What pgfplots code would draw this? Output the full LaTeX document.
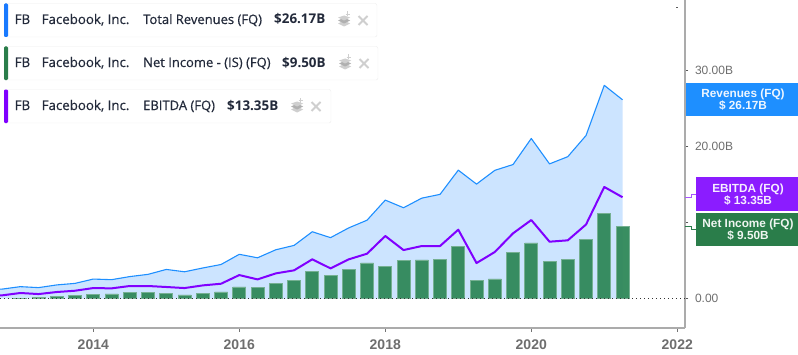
\documentclass[border=0pt]{standalone}
\usepackage{pgfplots}
\usepackage{pgfplotstable}
\usepackage{fontspec}
\pgfplotsset{compat=1.18}
\setmainfont{Liberation Sans}
\newfontfamily\legfont[RawFeature={embolden=0.5}]{Open Sans}
\newfontfamily\legbold{Open Sans}
\definecolor{rev}{HTML}{1E8FFF}
\definecolor{revfill}{HTML}{CCE4FF}
\definecolor{ebit}{HTML}{8000FF}
\definecolor{ebitflag}{HTML}{8B1CFF}
\definecolor{ni}{HTML}{338A5C}
\definecolor{niflag}{HTML}{2A7D4A}
\definecolor{nibar}{HTML}{75B092}
\definecolor{axgray}{HTML}{ABABAB}
\definecolor{txgray}{HTML}{6E6E6E}
\definecolor{txdark}{HTML}{22293A}
\definecolor{icon}{HTML}{CFCFCF}
\pgfplotstableread{
x rev
2012.5 1.184
2012.75 1.262
2013.0 1.585
2013.25 1.458
2013.5 1.813
2013.75 2.016
2014.0 2.585
2014.25 2.502
2014.5 2.910
2014.75 3.203
2015.0 3.851
2015.25 3.543
2015.5 4.042
2015.75 4.501
2016.0 5.841
2016.25 5.382
2016.5 6.436
2016.75 7.011
2017.0 8.809
2017.25 8.032
2017.5 9.321
2017.75 10.328
2018.0 12.972
2018.25 11.966
2018.5 13.231
2018.75 13.727
2019.0 16.914
2019.25 15.077
2019.5 16.886
2019.75 17.652
2020.0 21.082
2020.25 17.737
2020.5 18.687
2020.75 21.470
2021.0 28.072
2021.25 26.171
}\revtable
\pgfplotstableread{
x ni
2013.0 0.064
2013.25 0.219
2013.5 0.333
2013.75 0.425
2014.0 0.523
2014.25 0.642
2014.5 0.791
2014.75 0.806
2015.0 0.701
2015.25 0.512
2015.5 0.719
2015.75 0.896
2016.0 1.562
2016.25 1.510
2016.5 2.055
2016.75 2.379
2017.0 3.568
2017.25 3.064
2017.5 3.894
2017.75 4.707
2018.0 4.268
2018.25 4.988
2018.5 5.106
2018.75 5.137
2019.0 6.882
2019.25 2.429
2019.5 2.616
2019.75 6.091
2020.0 7.349
2020.25 4.902
2020.5 5.178
2020.75 7.846
2021.0 11.219
2021.25 9.497
}\nitable
\pgfplotstableread{
x eb
2012.5 0.40
2012.75 0.44
2013.0 0.75
2013.25 0.61
2013.5 0.88
2013.75 1.05
2014.0 1.40
2014.25 1.36
2014.5 1.67
2014.75 1.67
2015.0 1.54
2015.25 1.40
2015.5 1.75
2015.75 1.97
2016.0 3.11
2016.25 2.54
2016.5 3.33
2016.75 3.73
2017.0 5.18
2017.25 3.99
2017.5 5.18
2017.75 5.92
2018.0 8.25
2018.25 6.40
2018.5 6.93
2018.75 6.93
2019.0 9.08
2019.25 4.69
2019.5 6.14
2019.75 8.60
2020.0 10.35
2020.25 7.50
2020.5 7.68
2020.75 9.76
2021.0 14.70
2021.25 13.35
}\ebtable
\newcommand{\legbox}[7]{% y, right edge, colour, name, value, valuex, iconx
  \fill[white,draw=black!7,rounded corners=2pt] (4pt,{328pt-#1pt}) rectangle (#2pt,{328pt-#1pt-33.5pt});
  \fill[#3,rounded corners=1.2pt] (4pt,{328pt-#1pt}) rectangle (8pt,{328pt-#1pt-33.5pt});
  \node[anchor=base west,inner sep=0,font=\legfont\fontsize{13.3}{14}\selectfont,text=txdark] at (14.5pt,{328pt-#1pt-20.5pt}) {FB};
  \node[anchor=base west,inner sep=0,font=\legfont\fontsize{13.3}{14}\selectfont,text=txdark] at (41.5pt,{328pt-#1pt-20.5pt}) {Facebook, Inc.};
  \node[anchor=base west,inner sep=0,font=\legfont\fontsize{13}{14}\selectfont,text=txdark] at (143pt,{328pt-#1pt-20.5pt}) {#4};
  \node[anchor=base west,inner sep=0,font=\legbold\bfseries\fontsize{13.4}{14}\selectfont,text=txdark] at (#6pt,{328pt-#1pt-20.5pt}) {#5};
  \begin{scope}[shift={(#7pt,{328pt-#1pt-17pt})}]
    \fill[icon] (-6pt,-3pt)--(0pt,-6pt)--(6pt,-3pt)--(0pt,0pt)--cycle;
    \fill[icon!85!black] (-6pt,0pt)--(0pt,-3pt)--(6pt,0pt)--(0pt,3pt)--cycle;
    \fill[icon] (-6pt,3pt)--(0pt,0pt)--(6pt,3pt)--(0pt,5pt)--cycle;
    \draw[icon,line width=.8pt] (3.5pt,4pt)--(3.5pt,9pt) (1.5pt,6.5pt)--(5.5pt,6.5pt);
    \draw[icon,line width=1.9pt] (14.5pt,-4.5pt)--(23.5pt,4.5pt) (14.5pt,4.5pt)--(23.5pt,-4.5pt);
  \end{scope}
}
\newcommand{\flag}[6]{% x0,ytop,ybot,colour,line1,line2
  \fill[#4] (#1pt,{328pt-#2pt}) rectangle (798pt,{328pt-#3pt});
  \node[anchor=center,align=center,inner sep=0,text=white!92!#4,font=\bfseries\fontsize{11.8}{12}\selectfont]
    at ({(#1pt+798pt)/2+1pt},{328pt-(#2pt+#3pt)/2-.5pt}) {#5\\#6};
}
\begin{document}
\begin{tikzpicture}[x=1pt,y=1pt]
\path[use as bounding box] (0,-26pt) rectangle (798pt,328pt);
\begin{axis}[
  at={(0pt,0pt)},anchor=south west,
  scale only axis,width=685pt,height=328pt,
  xmin=2012.722,xmax=2022.106,
  ymin=-3.855,ymax=39.3,
  axis x line=bottom,axis y line=right,
  axis line style={axgray,line width=1.4pt,-},
  xtick={2014,2016,2018,2020,2022},
  xticklabels={2014,2016,2018,2020,2022},
  ytick={0,10,20,30},
  yticklabels={0.00,10.00B,20.00B,30.00B},
  x tick style={black!55,line width=.7pt},
  y tick style={black!65,line width=1.1pt},
  tick align=outside,
  major tick length=3.5pt,
  x tick label style={font=\bfseries\fontsize{14}{14}\selectfont,text=txgray,yshift=-4.5pt},
  y tick label style={font=\fontsize{12}{12}\selectfont,text=txgray,xshift=3pt},
  /pgf/number format/assume math mode=true,
  clip=true,
]
\addplot[draw=none,fill=revfill,forget plot] table[x=x,y=rev] {\revtable} \closedcycle;
\addplot[ybar,bar width=13pt,fill=ni,draw=nibar,line width=.6pt,fill opacity=.97,forget plot] table[x=x,y=ni] {\nitable};
\addplot[black!80,line width=.9pt,dash pattern=on 1pt off 3pt,forget plot] coordinates {(2012.722,0) (2022.106,0)};
\addplot[rev,line width=1.1pt,line join=round,forget plot] table[x=x,y=rev] {\revtable};
\addplot[ebit,line width=2pt,line join=round,forget plot] table[x=x,y=eb] {\ebtable};
\end{axis}
\fill[black!65] (676.2pt,{328pt-8.5pt}) rectangle (677.6pt,{328pt-7.1pt});
\legbox{3.5}{377}{rev!85!blue}{Total Revenues (FQ)}{\$26.17B}{274}{344}
\legbox{46.5}{378}{niflag}{Net Income - (IS) (FQ)}{\$9.50B}{282}{345}
\legbox{89.5}{331}{ebit}{EBITDA (FQ)}{\$13.35B}{227}{297}
\draw[ebitflag!75,line width=.9pt] (685pt,{328pt-197pt})--(691pt,{328pt-197pt})--(691pt,{328pt-194pt})--(696pt,{328pt-194pt});
\draw[niflag,line width=.9pt] (685pt,{328pt-226pt})--(691pt,{328pt-226pt})--(691pt,{328pt-229pt})--(696pt,{328pt-229pt});
\flag{686}{83}{115.7}{rev}{Revenues (FQ)}{\$ 26.17B}
\flag{696}{177}{210.7}{ebitflag}{EBITDA (FQ)}{\$ 13.35B}
\flag{696}{213}{245.7}{niflag}{Net Income (FQ)}{\$ 9.50B}
\end{tikzpicture}
\end{document}
